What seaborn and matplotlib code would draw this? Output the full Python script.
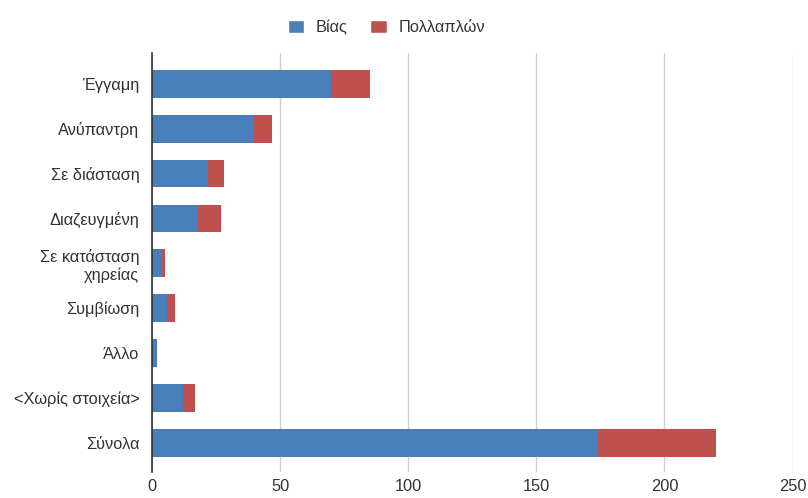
import matplotlib
matplotlib.use("Agg")
import matplotlib.pyplot as plt
import seaborn as sns
import pandas as pd
from matplotlib.patches import Patch

categories = ["Έγγαμη", "Ανύπαντρη", "Σε διάσταση", "Διαζευγμένη",
              "Σε κατάσταση\nχηρείας", "Συμβίωση", "Άλλο", "<Χωρίς στοιχεία>", "Σύνολα"]
vias = [70, 40, 22, 18, 4, 6, 2, 12, 174]
pollaplon = [15, 7, 6, 9, 1, 3, 0, 5, 46]
x_ticks = [0, 50, 100, 150, 200, 250]

sns.set_theme(style="white")
plt.rcParams['font.family'] = ['Liberation Sans', 'DejaVu Sans']

df = pd.DataFrame({"cat": categories, "Βίας": vias, "Πολλαπλών": pollaplon})
df["total"] = df["Βίας"] + df["Πολλαπλών"]

blue = "#4a7ebb"
red = "#c0504d"
fs = 11.8

fig = plt.figure(figsize=(8.08, 4.98), dpi=100)
ax = fig.add_axes([0.188, 0.052, 0.793, 0.842])

sns.barplot(data=df, y="cat", x="total", color=red, saturation=1, width=0.62, ax=ax,
            orient="h", linewidth=0)
sns.barplot(data=df, y="cat", x="Βίας", color=blue, saturation=1, width=0.62, ax=ax,
            orient="h", linewidth=0)

ax.set_xlim(0, 250)
ax.set_ylim(8.65, -0.69)
ax.set_xticks(x_ticks)
ax.set_xticklabels([str(t) for t in x_ticks])
ax.set_xlabel("")
ax.set_ylabel("")
ax.xaxis.grid(True, color="#d0d0d0", linewidth=1)
ax.set_axisbelow(True)
for s in ["top", "right", "bottom"]:
    ax.spines[s].set_visible(False)
ax.spines["left"].set_color("#333333")
ax.spines["left"].set_linewidth(1.2)
ax.tick_params(axis="both", length=0, labelsize=fs, labelcolor="#333333")
ax.tick_params(axis="x", pad=5)
ax.tick_params(axis="y", pad=9)
for lbl in ax.get_yticklabels():
    lbl.set_multialignment("right")

handles = [Patch(facecolor=blue, label="Βίας"), Patch(facecolor=red, label="Πολλαπλών")]
fig.legend(handles=handles, loc="upper center", bbox_to_anchor=(0.478, 0.99), ncol=2,
           frameon=False, fontsize=fs, handlelength=1.0, handleheight=0.9,
           columnspacing=1.4, handletextpad=0.7, labelcolor="#333333")

fig.savefig("out.png", dpi=100)
